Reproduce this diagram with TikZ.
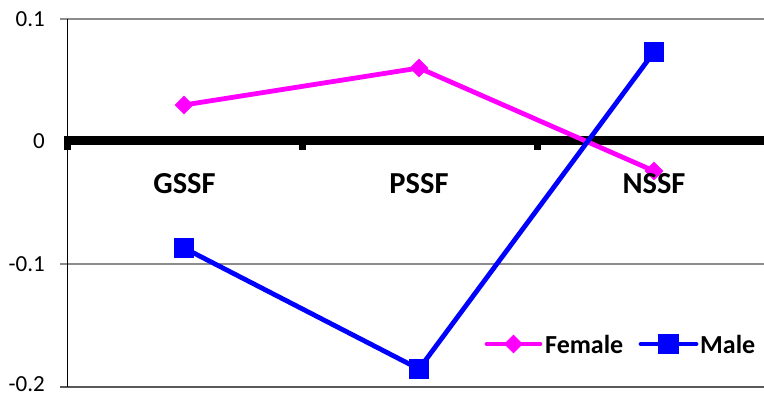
\documentclass[tikz,border=0pt]{standalone}
\usepackage{fontspec}
\setmainfont{Carlito}
\usetikzlibrary{shapes.geometric}
\definecolor{fem}{RGB}{255,0,255}
\definecolor{mal}{RGB}{0,0,255}
\begin{document}
\begin{tikzpicture}[x=1pt,y=-1pt,
  grid/.style={draw=black!45, line width=1.2pt},
  ylab/.style={anchor=east, font=\fontsize{23}{23}\selectfont, inner sep=0pt},
  catlab/.style={anchor=center, font=\fontsize{30.5}{30.5}\selectfont\bfseries, inner sep=0pt},
  leglab/.style={anchor=west, font=\fontsize{26}{26}\selectfont\bfseries, inner sep=0pt},
  fline/.style={draw=fem, line width=4.8pt},
  mline/.style={draw=mal, line width=4.8pt},
  fmark/.style={diamond, fill=fem, inner sep=0pt, minimum size=19pt},
  mmark/.style={rectangle, fill=mal, inner sep=0pt, minimum size=20.5pt},
  tickmark/.style={rectangle, fill=black, inner sep=0pt, minimum width=7pt, minimum height=9pt}
]
\useasboundingbox (0,0) rectangle (764,395);
% gridlines
\draw[grid] (60,19) -- (764,19);
\draw[grid] (60,264) -- (764,264);
\draw[draw=black!65, line width=1.2pt] (60,387) -- (764,387);
\draw[black, line width=1.2pt] (67.5,19) -- (67.5,387);
% y labels
\node[ylab] (y1) at (45,19) {0.1};
\node[ylab] (y0) at (45,141) {0};
\node[ylab] (ym1) at (45,264) {-0.1};
\node[ylab] (ym2) at (45,384) {-0.2};
% tick marks
\node[tickmark] (t0) at (67,146) {};
\node[tickmark] (t1) at (302,146) {};
\node[tickmark] (t2) at (537,146) {};
% zero line
\draw[black, line width=9pt] (64,141) -- (764,141);
% data
\coordinate (f1) at (184,105);
\coordinate (f2) at (419,68);
\coordinate (f3) at (654,171);
\coordinate (m1) at (184,248);
\coordinate (m2) at (419,369);
\coordinate (m3) at (654,52);
\draw[fline, line join=round] (f1) -- (f2) -- (f3);
\draw[mline, line join=round] (m1) -- (m2) -- (m3);
\node[fmark] (F1) at (f1) {};
\node[fmark] (F2) at (f2) {};
\node[fmark] (F3) at (f3) {};
\node[mmark] (M1) at (m1) {};
\node[mmark] (M2) at (m2) {};
\node[mmark] (M3) at (m3) {};
% category labels
\node[catlab] (c1) at (184.5,184) {GSSF};
\node[catlab] (c2) at (419,184) {PSSF};
\node[catlab] (c3) at (654,184) {NSSF};
% legend
\coordinate (lf1) at (487,344);
\coordinate (lf2) at (540,344);
\draw[fline, line cap=round] (lf1) -- (lf2);
\node[fmark] (LF) at (513.5,344) {};
\node[leglab] (LFt) at (545,344) {Female};
\coordinate (lm1) at (641,344);
\coordinate (lm2) at (696,344);
\draw[mline, line cap=round] (lm1) -- (lm2);
\node[mmark] (LM) at (668.5,344) {};
\node[leglab] (LMt) at (700,344) {Male};
\end{tikzpicture}
\end{document}
